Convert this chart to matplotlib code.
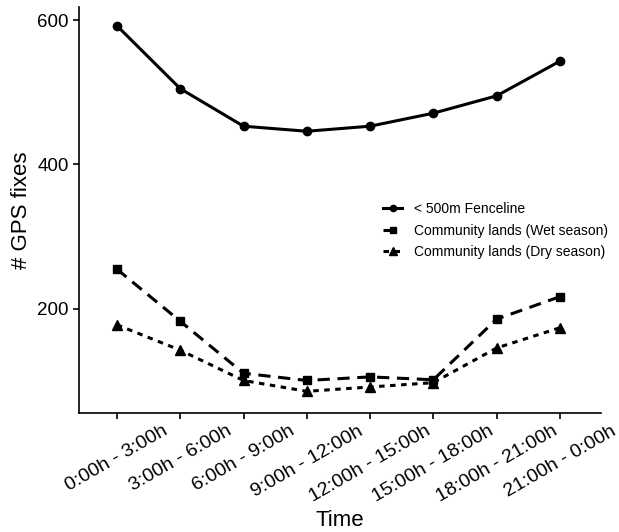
import matplotlib
matplotlib.use('Agg')
import matplotlib.pyplot as plt

plt.rcParams['font.family'] = ['Liberation Sans', 'DejaVu Sans']

time_labels = ['0:00h - 3:00h', '3:00h - 6:00h', '6:00h - 9:00h', '9:00h - 12:00h',
               '12:00h - 15:00h', '15:00h - 18:00h', '18:00h - 21:00h', '21:00h - 0:00h']
fenceline = [592, 505, 453, 446, 453, 471, 495, 543]
wet_season = [255, 183, 111, 101, 106, 102, 186, 217]
dry_season = [178, 143, 101, 86, 92, 98, 146, 174]

x = list(range(len(time_labels)))

fig = plt.figure(figsize=(6.19, 5.32), dpi=100)
ax = fig.add_axes([79/619, 1 - 413/532, (601 - 79)/619, (413 - 7)/532])

ax.plot(x, fenceline, color='black', lw=2.2, marker='o', ms=6, label='< 500m Fenceline')
ax.plot(x, wet_season, color='black', lw=2.2, ls=(0, (4, 2.5)), marker='s', ms=6,
        label='Community lands (Wet season)')
ax.plot(x, dry_season, color='black', lw=2.2, ls=(0, (1.8, 1.8)), marker='^', ms=7,
        label='Community lands (Dry season)')

ax.set_xlim(-0.6, 7.65)
ax.set_ylim(56, 618)
ax.set_yticks([200, 400, 600])
ax.set_xticks(x)
ax.set_xticklabels(time_labels, rotation=30, ha='center', fontsize=14)
ax.tick_params(axis='y', labelsize=13.5, length=4, width=1.2)
ax.tick_params(axis='x', length=4, width=1.2, pad=3)

for s in ['top', 'right']:
    ax.spines[s].set_visible(False)
for s in ['left', 'bottom']:
    ax.spines[s].set_linewidth(1.2)

ax.set_xlabel('Time', fontsize=16, labelpad=3)
ax.set_ylabel('# GPS fixes', fontsize=16)

# legend sits inside the plot, no frame
leg = ax.legend(loc='upper left', bbox_to_anchor=(376/619, 1 - 195/532),
                bbox_transform=fig.transFigure, frameon=False, fontsize=10,
                handlelength=1.4, handletextpad=0.8, markerscale=0.75,
                labelspacing=0.55, borderpad=0)

plt.savefig('out.png', dpi=100)
